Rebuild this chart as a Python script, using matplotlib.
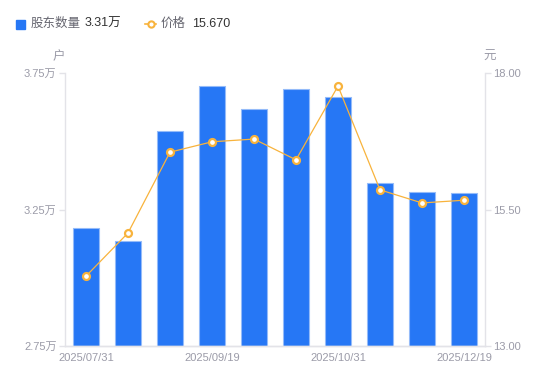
import matplotlib.pyplot as plt
from matplotlib.patches import Rectangle
from matplotlib.lines import Line2D

plt.rcParams['font.family'] = ['Liberation Sans', 'Noto Sans CJK SC', 'DejaVu Sans']

# Data
dates = ["2025/07/31", "", "", "2025/09/19", "", "", "2025/10/31", "", "", "2025/12/19"]
holders = [3.182, 3.135, 3.538, 3.702, 3.618, 3.691, 3.662, 3.347, 3.314, 3.31]  # 万户
price = [14.28, 15.07, 16.55, 16.74, 16.79, 16.41, 17.76, 15.86, 15.62, 15.67]  # 元

holder_ticks = [2.75, 3.25, 3.75]
price_ticks = [13.0, 15.5, 18.0]

BLUE = "#2677F5"
ORANGE = "#F8B33C"
GRID = "#E3E3E8"
TXT = "#9B9BA8"

fig = plt.figure(figsize=(5.5, 3.81), dpi=100)
ax = fig.add_axes([65 / 550, 35 / 381, 420 / 550, 273 / 381])
ax2 = ax.twinx()

x = list(range(len(dates)))
ax.bar(x, holders, width=0.6, color=BLUE, edgecolor="#94BBF9", linewidth=0.8, zorder=2)
ax.set_xlim(-0.5, len(dates) - 0.5)
ax.set_ylim(holder_ticks[0], holder_ticks[-1])
ax.set_yticks(holder_ticks)
ax.set_yticklabels([f"{t:.2f}万" for t in holder_ticks])
ax.set_xticks(x)
ax.set_xticklabels(dates)

ax2.plot(x, price, color=ORANGE, linewidth=0.9, marker="o", markersize=5,
         markerfacecolor="white", markeredgecolor=ORANGE, markeredgewidth=1.6, zorder=3)
ax2.set_ylim(price_ticks[0], price_ticks[-1])
ax2.set_yticks(price_ticks)
ax2.set_yticklabels([f"{t:.2f}" for t in price_ticks])

for a in (ax, ax2):
    for s in a.spines.values():
        s.set_color(GRID)
        s.set_linewidth(1)
    a.spines["top"].set_visible(False)
    a.tick_params(axis="y", colors=GRID, labelcolor=TXT, labelsize=8, length=4, width=1, pad=2)
    a.tick_params(axis="x", length=0, labelcolor=TXT, labelsize=8, pad=5)

ax.spines["right"].set_visible(False)
ax2.spines["left"].set_visible(False)

# Unit labels
fig.text(59 / 550, 1 - 57 / 381, "户", color=TXT, fontsize=9, ha="center", va="center")
fig.text(490 / 550, 1 - 57 / 381, "元", color=TXT, fontsize=9, ha="center", va="center")

# Legend
ly = 1 - 24 / 381
fig.patches.append(Rectangle((16 / 550, 1 - 29 / 381), 9 / 550, 9 / 381,
                             transform=fig.transFigure, color=BLUE, figure=fig))
fig.text(31 / 550, ly, "股东数量", color="#666670", fontsize=9, va="center")
fig.text(85 / 550, ly, f"{holders[-1]:.2f}万", color="#333333", fontsize=9, va="center")
fig.lines.append(Line2D([145 / 550, 156 / 550], [ly, ly], transform=fig.transFigure,
                        color=ORANGE, linewidth=1.2, figure=fig))
fig.lines.append(Line2D([150.5 / 550], [ly], transform=fig.transFigure, marker="o",
                        markersize=4.5, markerfacecolor="white", markeredgecolor=ORANGE,
                        markeredgewidth=1.5, linestyle="none", figure=fig))
fig.text(161 / 550, ly, "价格", color="#666670", fontsize=9, va="center")
fig.text(192 / 550, ly, f"{price[-1]:.3f}", color="#333333", fontsize=9, va="center")

fig.savefig("out.png", dpi=100)
